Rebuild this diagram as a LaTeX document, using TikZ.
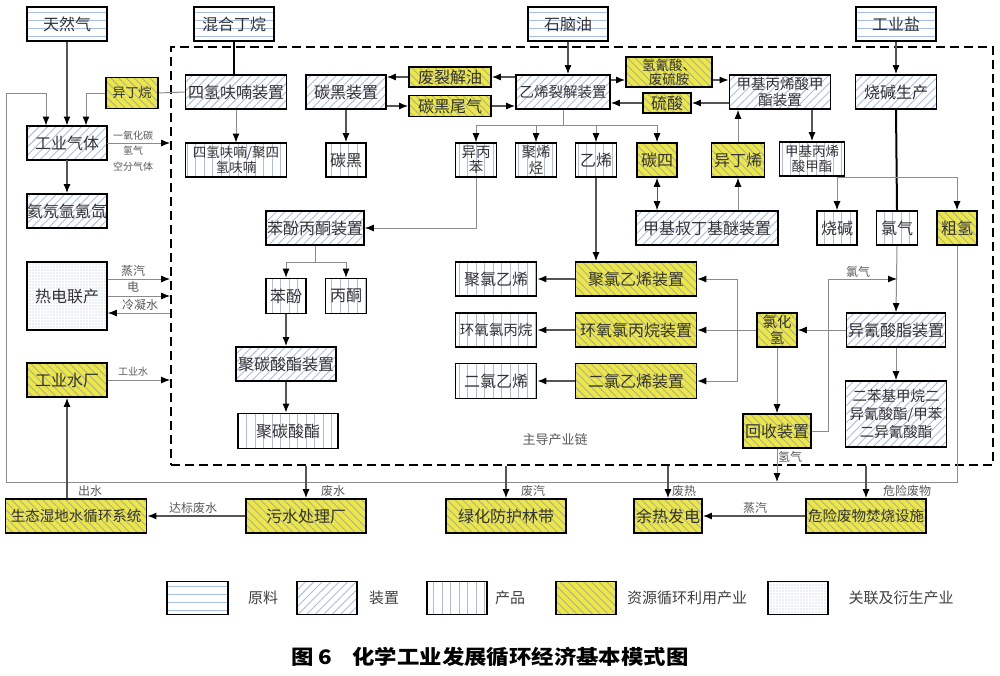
\documentclass[tikz,border=0pt]{standalone}
\usepackage{fontspec}
\setmainfont{Noto Sans CJK SC}
\newfontfamily\titlefont{Noto Sans CJK SC}[FakeStretch=1.12]
\usepackage{tikz}
\usetikzlibrary{arrows.meta,patterns.meta,positioning}
\definecolor{ylw}{RGB}{238,232,60}
\definecolor{hatch}{RGB}{168,190,228}
\definecolor{hatchy}{RGB}{165,172,190}
\definecolor{lgray}{RGB}{140,140,140}
\definecolor{dgray}{RGB}{85,85,85}
\tikzstyle{box} = [draw=black, line width=1.6pt, inner sep=0pt, align=center, text=black!80, font=\fontsize{16}{17}\selectfont]
\tikzstyle{raw} = [box, path picture={\foreach \k in {-12,-4,4,12} \draw[hatch, line width=0.9pt] ([yshift=\k pt]path picture bounding box.west) -- ([yshift=\k pt]path picture bounding box.east);}]
\tikzstyle{dev} = [box, pattern={Lines[angle=45,distance=6pt,line width=0.9pt]}, pattern color=hatch]
\tikzstyle{prod} = [box, pattern={Lines[angle=90,distance=8.5pt,line width=0.9pt]}, pattern color=hatch]
\tikzstyle{recyc} = [box, fill=ylw, postaction={pattern={Lines[angle=-45,distance=5.5pt,line width=0.9pt]}, pattern color=hatchy}, postaction={draw=black, line width=1.6pt}]
\tikzstyle{rel} = [box, pattern={Dots[distance=3pt,radius=0.55pt]}, pattern color=hatch]
\tikzstyle{arrow} = [-{Latex[length=9pt,width=7pt,color=black]}, line width=1pt, draw=lgray]
\tikzstyle{darrow} = [-{Latex[length=9pt,width=7pt,color=black]}, line width=1.3pt, draw=dgray]
\tikzstyle{line} = [line width=1pt, draw=lgray]
\tikzstyle{bline} = [line width=2pt, draw=black]
\tikzstyle{lbl} = [inner sep=0pt, text=black!65, font=\fontsize{12}{12}\selectfont]
\tikzstyle{slbl} = [lbl, font=\fontsize{10}{11}\selectfont]

\begin{document}
\begin{tikzpicture}[
        x=1pt, y=-1pt,
        sz/.style 2 args={minimum width=#1pt, minimum height=#2pt},
        small/.style={font=\fontsize{14.5}{15.5}\selectfont}
        ]
    \useasboundingbox[fill=white] (0,0) rectangle (1000,675);
    \node (chain) [draw, line width=1.8pt, dash pattern=on 9pt off 5pt, sz={822}{418}] at (582,256) {};
    \node[lbl, font=\fontsize{13}{13}\selectfont] (zd) at (555,440) {主导产业链};

    \node[raw, sz={80}{34}] (tianranqi) at (67,24) {天然气};
    \node[raw, sz={80}{34}] (hunhe) at (234,24) {混合丁烷};
    \node[raw, sz={80}{34}] (shinaoyou) at (568,24) {石脑油};
    \node[raw, sz={80}{34}] (gongyeyan) at (896,24) {工业盐};

    \node[dev, sz={80}{34}] (gyqt) at (67,143) {工业气体};
    \node[dev, sz={80}{34}] (xiyou) at (67,211) {氦氖氩氪氙};
    \node[recyc, sz={52}{31}, font=\fontsize{13}{13}\selectfont] (yidingwan) at (132,93) {异丁烷};
    \node[rel, sz={80}{68}] (rdlc) at (67,296) {热电联产};
    \node[recyc, sz={80}{34}] (gysc) at (67,380) {工业水厂};

    \node[recyc, sz={141}{34}, small] (shidi) at (76,516) {生态湿地水循环系统};
    \node[recyc, sz={120}{34}] (wushui) at (306,516) {污水处理厂};
    \node[recyc, sz={120}{34}] (lvhua) at (506,516) {绿化防护林带};
    \node[recyc, sz={68}{34}] (yure) at (668,516) {余热发电};
    \node[recyc, sz={120}{34}, small] (weixian) at (866,516) {危险废物焚烧设施};

    \node[dev, sz={101}{34}] (thfn) at (236,92) {四氢呋喃装置};
    \node[prod, sz={101}{34}, font=\fontsize{13.5}{15}\selectfont] (thfnp) at (236,160) {四氢呋喃/聚四\\氢呋喃};
    \node[dev, sz={80}{34}] (tanhei) at (346,92) {碳黑装置};
    \node[prod, sz={40}{34}] (tanheip) at (346,160) {碳黑};
    \node[recyc, sz={82}{20}] (fljy) at (450,77) {废裂解油};
    \node[recyc, sz={82}{21}] (thwq) at (450,106) {碳黑尾气};
    \node[dev, sz={94}{34}, small] (yxlj) at (563,92) {乙烯裂解装置};
    \node[recyc, sz={86}{30}, font=\fontsize{13.5}{14}\selectfont] (qqs) at (669,72) {氢氰酸、\\废硫胺};
    \node[recyc, sz={48}{20}] (liusuan) at (667,103) {硫酸};
    \node[dev, sz={101}{34}, small] (jbbx) at (780,92) {甲基丙烯酸甲\\酯装置};

    \node[prod, sz={41}{34}, small] (yibingben) at (476,160) {异丙\\苯};
    \node[prod, sz={41}{34}, small] (juxiting) at (536,160) {聚烯\\烃};
    \node[prod, sz={41}{34}] (yixi) at (596,160) {乙烯};
    \node[recyc, sz={40}{34}] (tansi) at (657,160) {碳四};
    \node[recyc, sz={53}{34}] (yidingxi) at (738,160) {异丁烯};
    \node[prod, sz={65}{34}, font=\fontsize{13.5}{15}\selectfont] (jbbxp) at (812,159) {甲基丙烯\\酸甲酯};
    \node[dev, sz={142}{34}] (mtbe) at (707,228) {甲基叔丁基醚装置};

    \node[dev, sz={98}{34}] (bfbt) at (315,228) {苯酚丙酮装置};
    \node[prod, sz={40}{35}] (benfen) at (286,296) {苯酚};
    \node[prod, sz={41}{35}] (bingtong) at (346,296) {丙酮};
    \node[dev, sz={100}{34}] (jtszz) at (286,364) {聚碳酸酯装置};
    \node[prod, sz={100}{35}] (jtsz) at (288,431) {聚碳酸酯};

    \node[prod, sz={81}{34}] (jlyxp) at (496,279) {聚氯乙烯};
    \node[prod, sz={81}{34}, small] (hylbwp) at (496,330) {环氧氯丙烷};
    \node[prod, sz={81}{35}] (elyxp) at (496,381) {二氯乙烯};
    \node[recyc, sz={121}{34}] (jlyx) at (636,279) {聚氯乙烯装置};
    \node[recyc, sz={121}{34}] (hylbw) at (636,330) {环氧氯丙烷装置};
    \node[recyc, sz={121}{35}] (elyx) at (636,381) {二氯乙烯装置};

    \node[dev, sz={81}{34}] (sjsc) at (896,92) {烧碱生产};
    \node[prod, sz={40}{34}] (shaojian) at (837,228) {烧碱};
    \node[prod, sz={41}{34}] (lvqi) at (897,228) {氯气};
    \node[recyc, sz={40}{34}] (cuqing) at (957,228) {粗氢};
    \node[dev, sz={99}{34}] (yqsz) at (896,330) {异氰酸脂装置};
    \node[recyc, sz={40}{34}, small] (lhq) at (777,330) {氯化\\氢};
    \node[recyc, sz={68}{34}] (huishou) at (777,431) {回收装置};
    \node[dev, sz={101}{66}, font=\fontsize{14.5}{18}\selectfont] (mdi) at (896,414) {二苯基甲烷二\\异氰酸酯/甲苯\\二异氰酸酯};

    \coordinate (g1) at ([xshift=-21pt]gyqt.north);
    \coordinate (g2) at ([xshift=19pt]gyqt.north);
    \coordinate (hb) at (6,482);
    \coordinate (ht) at (6,93);
    \coordinate (s1) at ([yshift=17pt]rdlc.east);
    \coordinate (s3) at ([yshift=-17pt]rdlc.east);
    \coordinate (q1) at ([yshift=-8pt]qqs.west);
    \coordinate (q2) at ([yshift=-8pt]qqs.east);
    \coordinate (yb) at (563,125);
    \coordinate (sb) at (897,177);
    \coordinate (lb) at (737,330);
    \coordinate (bb) at (315,262);
    \coordinate (cl) at (828,279);

    \draw[darrow] (tianranqi.south) -- (gyqt.north);
    \draw[darrow] (gyqt.south) -- (xiyou.north);
    \draw[arrow] (gyqt.east) -- (gyqt.east -| chain.west);
    \node[slbl] (co) at (133,136) {一氧化碳};
    \node[slbl] (h2) at (133,151) {氢气};
    \node[slbl] (kf) at (133,167) {空分气体};
    \draw[line] (thfn.west) -- (yidingwan.east);
    \draw[arrow] (yidingwan.west) -| (g2);
    \draw[arrow] (cuqing.south) |- (hb) -- (ht) -| (g1);
    \draw[arrow] (s1) -- (s1 -| chain.west);
    \draw[arrow] (rdlc.east) -- (rdlc.east -| chain.west);
    \draw[arrow] (s3 -| chain.west) -- (s3);
    \node[lbl] (zq) at (133,271) {蒸汽};
    \node[lbl] (dian) at (133,287) {电};
    \node[lbl] (lns) at (140,305) {冷凝水};
    \draw[arrow] (gysc.east) -- (gysc.east -| chain.west);
    \node[slbl] (gys) at (133,372) {工业水};
    \draw[darrow] (gysc.south |- shidi.north) -- (gysc.south);
    \node[lbl] (cs) at (90,491) {出水};

    \draw[darrow] (wushui.north |- chain.south) -- (wushui.north);
    \node[lbl] (fs) at (333,491) {废水};
    \draw[darrow] (wushui.west) -- (shidi.east);
    \node[lbl] (dbfs) at (193,508) {达标废水};
    \draw[darrow] (lvhua.north |- chain.south) -- (lvhua.north);
    \node[lbl] (fq) at (533,491) {废汽};
    \draw[darrow] (yure.north |- chain.south) -- (yure.north);
    \node[lbl] (fr) at (684,491) {废热};
    \draw[darrow] (weixian.north |- chain.south) -- (weixian.north);
    \node[lbl] (wxfw) at (907,491) {危险废物};
    \draw[darrow] (weixian.west) -- (yure.east);
    \node[lbl] (zq2) at (755,508) {蒸汽};

    \draw[bline] (hunhe.south) -- (hunhe.south |- thfn.north);
    \draw[arrow] (thfn.south) -- (thfnp.north);
    \draw[darrow] (tanhei.south) -- (tanheip.north);
    \draw[darrow] (shinaoyou.south) -- (shinaoyou.south |- yxlj.north);
    \draw[darrow] (fljy.east -| yxlj.west) -- (fljy.east);
    \draw[darrow] (fljy.west) -- (fljy.west -| tanhei.east);
    \draw[darrow] (thwq.west -| tanhei.east) -- (thwq.west);
    \draw[darrow] (thwq.east) -- (thwq.east -| yxlj.west);
    \draw[darrow] (q1 -| yxlj.east) -- (q1);
    \draw[darrow] (q2) -- (q2 -| jbbx.west);
    \draw[darrow] (liusuan.west) -- (liusuan.west -| yxlj.east);
    \draw[darrow] (liusuan.east -| jbbx.west) -- (liusuan.east);

    \draw[line] (yxlj.south) -- (yb);
    \draw[arrow] (yb) -| (yibingben.north);
    \draw[arrow] (yb) -| (juxiting.north);
    \draw[arrow] (yb) -| (yixi.north);
    \draw[arrow] (yb) -| (tansi.north);
    \draw[arrow] (yibingben.south) |- (bfbt.east);
    \draw[darrow] (yixi.south) -- (yixi.south |- jlyx.north);
    \draw[{Latex[length=9pt,width=7pt,color=black]}-{Latex[length=9pt,width=7pt,color=black]}, line width=1pt, draw=dgray] (tansi.south) -- (tansi.south |- mtbe.north);
    \draw[arrow] (yidingxi.south |- mtbe.north) -- (yidingxi.south);
    \draw[arrow] (yidingxi.north) -- (yidingxi.north |- jbbx.south);
    \draw[darrow] (jbbxp.north |- jbbx.south) -- (jbbxp.north);

    \draw[line] (bfbt.south) -- (bb);
    \draw[arrow] (bb) -| (benfen.north);
    \draw[arrow] (bb) -| (bingtong.north);
    \draw[darrow] (benfen.south) -- (benfen.south |- jtszz.north);
    \draw[darrow] (jtszz.south) -- (jtszz.south |- jtsz.north);

    \draw[darrow] (gongyeyan.south) -- (sjsc.north);
    \draw[bline] (sjsc.south) -- (lvqi.north);
    \draw[arrow] (sb) -| (shaojian.north);
    \draw[arrow] (sb) -| (cuqing.north);
    \draw[arrow] (lvqi.south) -- (yqsz.north);
    \draw[arrow] (yqsz.south) -- (mdi.north);
    \draw[arrow] (yqsz.west) -- (lhq.east);
    \draw[arrow] (lhq.west) -- (hylbw.east);
    \draw[arrow] (lb) |- (jlyx.east);
    \draw[arrow] (lb) |- (elyx.east);
    \draw[arrow] (lhq.south) -- (huishou.north);
    \draw[arrow] (huishou.east) -| (cl) -- (cl -| lvqi.south);
    \node[lbl] (lq) at (858,272) {氯气};
    \draw[arrow] (huishou.south) -- (huishou.south |- hb);
    \node[lbl] (qq) at (790,457) {氢气};
    \draw[darrow] (jlyx.west) -- (jlyxp.east);
    \draw[darrow] (hylbw.west) -- (hylbwp.east);
    \draw[darrow] (elyx.west) -- (elyxp.east);

    \node[raw, sz={61}{33}] (lg1) at (197.5,598) {};
    \node[lbl, font=\fontsize{15}{15}\selectfont, text=black!75] (lt1) at (263,598) {原料};
    \node[dev, sz={60}{33}] (lg2) at (327,598) {};
    \node[lbl, font=\fontsize{15}{15}\selectfont, text=black!75] (lt2) at (384,598) {装置};
    \node[prod, sz={60}{33}] (lg3) at (457,598) {};
    \node[lbl, font=\fontsize{15}{15}\selectfont, text=black!75] (lt3) at (510,598) {产品};
    \node[recyc, sz={60}{33}] (lg4) at (586,598) {};
    \node[lbl, font=\fontsize{15}{15}\selectfont, text=black!75] (lt4) at (687,598) {资源循环利用产业};
    \node[rel, sz={60}{33}] (lg5) at (798,598) {};
    \node[lbl, font=\fontsize{15}{15}\selectfont, text=black!75] (lt5) at (901,598) {关联及衍生产业};

    \node[inner sep=0pt, font=\titlefont\bfseries\fontsize{20}{20}\selectfont] (title) at (490,657) {图 6\quad 化学工业发展循环经济基本模式图};
\end{tikzpicture}
\end{document}
